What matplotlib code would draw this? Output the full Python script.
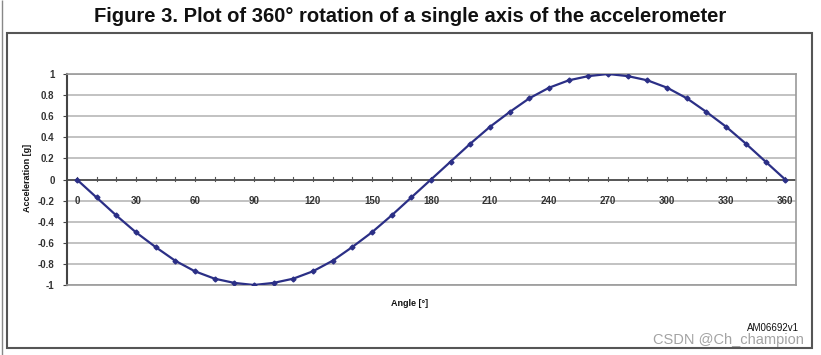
import matplotlib.pyplot as plt
from matplotlib.patches import Rectangle

plt.rcParams['font.family'] = ['Liberation Sans', 'DejaVu Sans']

angles = [0, 10, 20, 30, 40, 50, 60, 70, 80, 90, 100, 110, 120, 130, 140, 150, 160, 170, 180,
          190, 200, 210, 220, 230, 240, 250, 260, 270, 280, 290, 300, 310, 320, 330, 340, 350, 360]
accel = [0, -0.17, -0.34, -0.5, -0.64, -0.77, -0.87, -0.94, -0.98, -1.0, -0.98, -0.94, -0.87,
         -0.77, -0.64, -0.5, -0.34, -0.17, 0, 0.17, 0.34, 0.5, 0.64, 0.77, 0.87, 0.94, 0.98,
         1.0, 0.98, 0.94, 0.87, 0.77, 0.64, 0.5, 0.34, 0.17, 0]
xticks = [0, 30, 60, 90, 120, 150, 180, 210, 240, 270, 300, 330, 360]
yticks = [-1, -0.8, -0.6, -0.4, -0.2, 0, 0.2, 0.4, 0.6, 0.8, 1]

W, H = 821, 355
fig = plt.figure(figsize=(W / 100, H / 100), dpi=100)

# outer frame
fig.patches.append(Rectangle((7 / W, 7 / H), 805 / W, 315 / H, transform=fig.transFigure,
                             fill=False, edgecolor='#555555', linewidth=1.5))
fig.patches.append(Rectangle((2 / W, 0), 0, 1, transform=fig.transFigure,
                             fill=False, edgecolor='#888888', linewidth=1))

fig.text(410 / W, 1 - 17 / H, 'Figure 3. Plot of 360° rotation of a single axis of the accelerometer',
         ha='center', va='center', fontsize=14.5, fontweight='bold', color='#111111')

ax = fig.add_axes([67 / W, 1 - 285 / H, (796 - 67) / W, (285 - 74) / H])
ax.set_xlim(-5, 365.5)
ax.set_ylim(-1, 1)

for y in yticks:
    ax.axhline(y, color='#b8b8b8', linewidth=1.2, zorder=0)
ax.axhline(0, color='#444444', linewidth=1.2, zorder=1)

for s in ['top', 'right', 'bottom']:
    ax.spines[s].set_color('#999999')
    ax.spines[s].set_linewidth(1.2)
ax.spines['left'].set_color('#444444')
ax.spines['left'].set_linewidth(1.5)

ax.plot(angles, accel, color='#2b2f86', linewidth=1.6, marker='D', markersize=2.5, zorder=3)

ax.set_yticks(yticks)
ax.set_yticklabels(['-1', '-0.8', '-0.6', '-0.4', '-0.2', '0', '0.2', '0.4', '0.6', '0.8', '1'],
                   fontsize=7, fontweight='bold', color='#333333')
ax.tick_params(axis='y', length=3, color='#444444', pad=6)
ax.set_xticks([])

# x ticks along the zero line
for a in range(0, 361, 10):
    ax.plot([a, a], [-0.012, 0.02], color='#555555', linewidth=0.8, zorder=2)
for a in xticks:
    ax.text(a, -0.2, str(a), ha='center', va='center', fontsize=7, fontweight='bold', color='#333333')

fig.text(27 / W, 1 - 178 / H, 'Acceleration [g]', rotation=90, ha='center', va='center',
         fontsize=6.5, fontweight='bold', color='#111111')
fig.text(410 / W, 1 - 303 / H, 'Angle [°]', ha='center', va='center',
         fontsize=6.5, fontweight='bold', color='#111111')
fig.text(773 / W, 1 - 328 / H, 'AM06692v1', ha='center', va='center', fontsize=7, color='#111111')
fig.text(728 / W, 1 - 340 / H, 'CSDN @Ch_champion', ha='center', va='center', fontsize=10.5,
         color='#999999', alpha=0.9)

fig.savefig('out.png', dpi=100)
